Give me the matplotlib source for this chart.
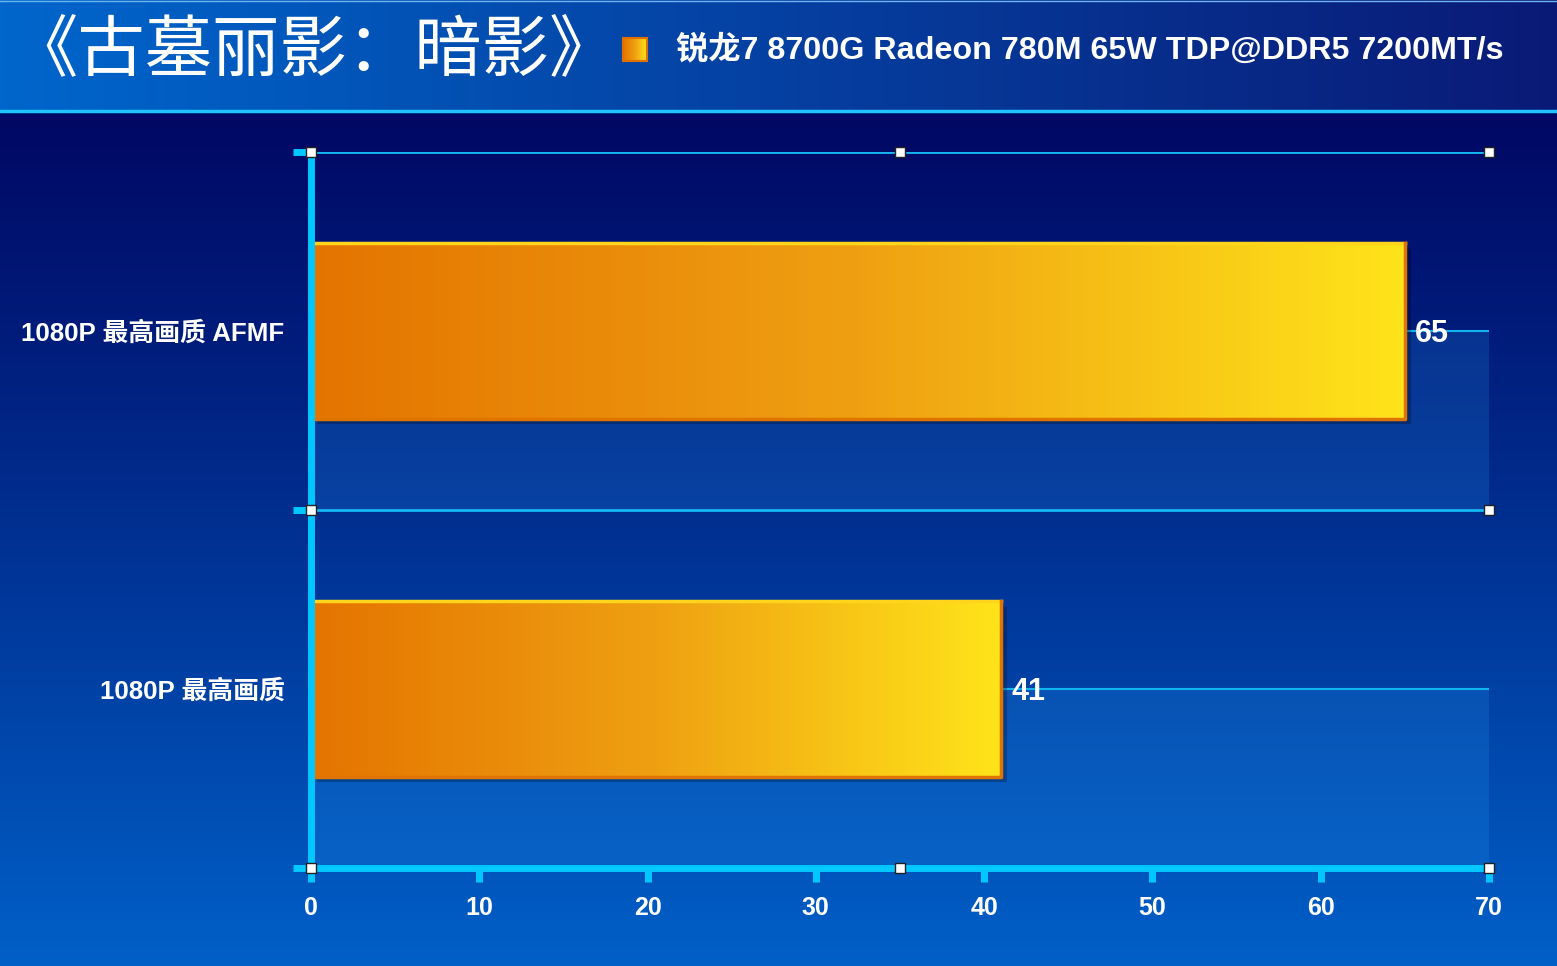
import numpy as np
import matplotlib.pyplot as plt
from matplotlib.colors import LinearSegmentedColormap
from matplotlib.patches import Rectangle

# chart data
title = '《古墓丽影：暗影》'
series_name = '锐龙7 8700G Radeon 780M 65W TDP@DDR5 7200MT/s'
categories = ['1080P 最高画质', '1080P 最高画质 AFMF']
fps = [41, 65]
xticks = [0, 10, 20, 30, 40, 50, 60, 70]

plt.rcParams['font.family'] = ['Liberation Sans', 'Noto Sans CJK SC', 'DejaVu Sans']

W, H = 1557, 966
fig = plt.figure(figsize=(W / 100, H / 100), dpi=100)

# background: header + body gradients
bg = fig.add_axes([0, 0, 1, 1])
bg.set_xlim(0, W)
bg.set_ylim(H, 0)
bg.axis('off')

t = np.linspace(0, 1, 256)
top_c = np.array([0, 8, 100]) / 255
bot_c = np.array([0, 96, 200]) / 255
body = top_c + (bot_c - top_c) * (t ** 1.1)[:, None]
bg.imshow(body[:, None, :], extent=(0, W, H, 110), aspect='auto')

left_c = np.array([0, 102, 204]) / 255
right_c = np.array([10, 26, 118]) / 255
head = left_c + (right_c - left_c) * t[:, None]
bg.imshow(head[None, :, :], extent=(0, W, 110, 0), aspect='auto')
bg.plot([0, W], [111, 111], color='#22c4ff', lw=2.5)
bg.plot([0, W], [0.5, 0.5], color='#70b4f0', lw=1)
bg.set_xlim(0, W)
bg.set_ylim(H, 0)

bar_cmap = LinearSegmentedColormap.from_list('bar', ['#e47400', '#efa012', '#ffe41a'])
grad = np.linspace(0, 1, 256)[None, :]

# title and legend
bg.text(10, 52, title, fontsize=48.5, color='white', va='center',
        family=['Noto Sans CJK SC'])
bg.imshow(grad, cmap=bar_cmap, extent=(623, 647, 61, 38), aspect='auto')
bg.add_patch(Rectangle((623, 38), 24, 23, fill=False, ec='#e07000', lw=1.5))
bg.text(676, 50, series_name, fontsize=23.2, fontweight='bold', color='white',
        va='center')

# plot area
ax = fig.add_axes([311 / W, 1 - 868 / H, (1489 - 311) / W, (868 - 152) / H])
ax.patch.set_alpha(0)
x_lo, x_hi = xticks[0], xticks[-1]
ypos = np.arange(len(categories))

for i, v in zip(ypos, fps):
    ax.add_patch(Rectangle((x_lo, i - 0.5), x_hi - x_lo, 0.5, color='#2aa8ff',
                           alpha=0.17, lw=0, zorder=1))
    ax.plot([v, x_hi], [i, i], color='#12b4f0', lw=1.5, zorder=1.5)

for yb in [0.5, 1.5]:
    ax.axhline(yb, color='#14b8f4', lw=2, zorder=1.5)

bars = ax.barh(ypos, fps, height=0.49, color='none', zorder=3)
for b in bars:
    x0, y0, w, h = b.get_x(), b.get_y(), b.get_width(), b.get_height()
    ax.add_patch(Rectangle((x0 + 0.35, y0 - 0.015), w, h, color='black',
                           alpha=0.25, lw=0, zorder=2))
    im = ax.imshow(grad, cmap=bar_cmap, extent=(x0, x0 + w, y0, y0 + h),
                   aspect='auto', zorder=3)
    im.set_clip_path(b)
    ax.plot([x0, x0, x0 + w], [y0, y0 + h, y0 + h], color='#ffd41c', lw=2.5,
            zorder=4, solid_capstyle='projecting')
    ax.plot([x0, x0 + w, x0 + w], [y0, y0, y0 + h], color='#e07400', lw=2.5,
            zorder=4, solid_capstyle='projecting')

for i, v in zip(ypos, fps):
    ax.text(v + 0.6, i - 0.008, str(v), ha='left', va='center', fontsize=22,
            fontweight='bold', color='white', zorder=5)

ax.set_xlim(x_lo, x_hi)
ax.set_ylim(-0.5, len(categories) - 0.5)

for s in ['top', 'right']:
    ax.spines[s].set_visible(False)
for s in ['left', 'bottom']:
    ax.spines[s].set_color('#00c8ff')
    ax.spines[s].set_linewidth(5)
    ax.spines[s].set_zorder(4.5)

ax.set_xticks(xticks)
ax.tick_params(axis='x', length=10, width=5, color='#00c8ff',
               labelcolor='white', labelsize=18, pad=10)
for lbl in ax.get_xticklabels():
    lbl.set_fontweight('bold')

ax.set_yticks(ypos, categories)
ax.set_yticks([-0.5, 0.5, 1.5], minor=True)
ax.tick_params(axis='y', which='major', length=0, pad=19, labelsize=18.6,
               labelcolor='white')
ax.tick_params(axis='y', which='minor', length=13, width=5, color='#00c8ff')
for lbl in ax.get_yticklabels():
    lbl.set_fontweight('bold')

# corner handles
x_mid = (x_lo + x_hi) / 2
hx = [x_lo, x_mid, x_hi, x_lo, x_hi, x_lo, x_mid, x_hi]
hy = [1.5, 1.5, 1.5, 0.5, 0.5, -0.5, -0.5, -0.5]
ax.plot(hx, hy, 's', ms=7, mfc='white', mec='#202020', mew=1,
        clip_on=False, zorder=6)

fig.savefig('out.png', dpi=100)
